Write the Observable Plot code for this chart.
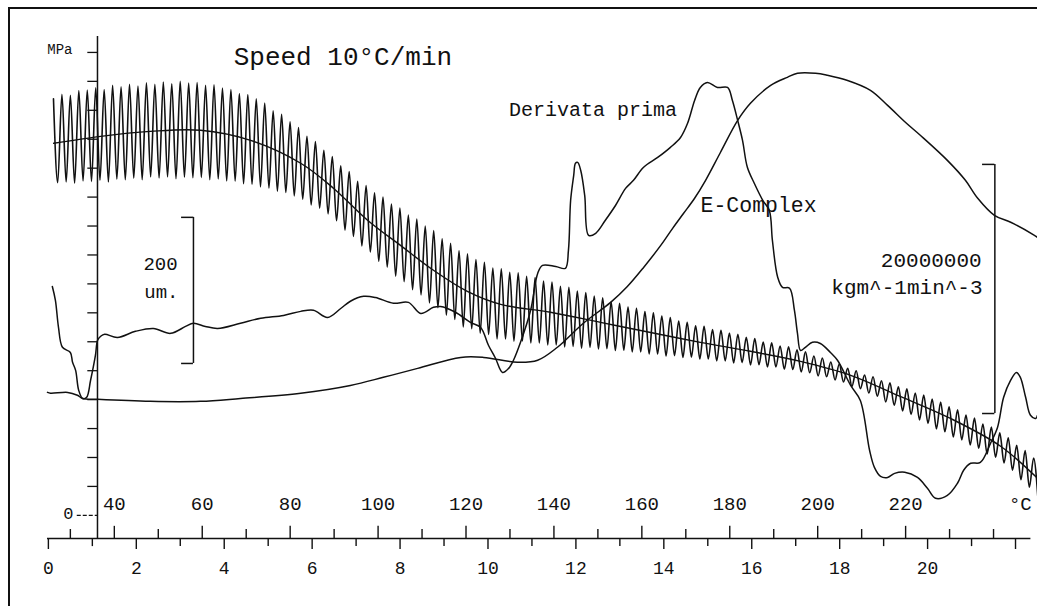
<!DOCTYPE html>
<html><head><meta charset="utf-8">
<script src="https://cdn.jsdelivr.net/npm/d3@7"></script>
<script src="https://cdn.jsdelivr.net/npm/@observablehq/plot@0.6"></script>
<style>
html,body{margin:0;padding:0;background:#fff;overflow:hidden;}
#wrap{position:relative;width:1037px;height:606px;overflow:hidden;}
#frame{position:absolute;left:8px;top:7px;right:-20px;bottom:-20px;border-left:2px solid #111;border-top:2px solid #111;}
#chart{position:absolute;left:0;top:0;}
</style></head><body>
<div id="wrap"><div id="frame"></div><div id="chart"></div></div>
<script>
// ---- axes (temperature °C on x, storage modulus MPa on y; time = (T-25)/10 min) ----
const tempTicks = [30,40,50,60,70,80,90,100,110,120,130,140,150,160,170,180,190,200,210,220,230,240];
const tempLabels = [40,60,80,100,120,140,160,180,200,220];
const timeTicks = [0,1,2,3,4,5,6,7,8,9,10,11,12,13,14,15,16,17,18,19,20,21,22];
const timeLabels = [0,2,4,6,8,10,12,14,16,18,20];
const modTicks = [0,100,200,300,400,500,600,700,800,900,1000,1100,1200,1300,1400,1500,1600];

// ---- E' oscillating trace: crest / trough of each cycle ----
const oscStartT = 26.16;   // °C of first crest
const oscPeriodT = 1.922;  // °C per cycle
const oscTop = [1440,1455,1452,1468,1470, 1478,1472,1486,1481, 1490,1484,1495,1490, 1498,1492,1500,1494,
 1496,1486,1488,1477, 1472,1458,1454,1440, 1425,1398,1386,1360, 1340,1310,1292,1262, 1240,1208,1188,1155,
 1140,1115,1100,1076, 1062,1038,1024,1000, 984,956,940,914, 904,884,875,855, 852,840,838,826,
 822,810,806,792, 788,775,770,758, 752,738,733,720, 716,704,700,689, 684,672,667,655,
 653,642,640,630, 626,615,611,599, 596,585,583,572, 565,551,544,530, 523,508,500,485,
 479,465,458,444, 437,423,416,402, 392,375,365,347, 336,316,305,285, 268,242,224,198];
const oscBottom = [1150,1152,1148,1156,1154, 1158,1152,1162,1160, 1165,1160,1170,1166, 1170,1164,1169,1167,
 1168,1160,1163,1156, 1155,1146,1144,1135, 1131,1120,1116,1104, 1093,1073,1062,1042, 1018,986,964,931,
 910,878,858,827, 808,780,762,734, 718,692,677,651, 645,630,625,610, 610,602,603,596,
 596,589,589,582, 584,578,581,575, 576,570,571,565, 565,558,558,551, 552,546,547,541,
 541,534,534,527, 528,520,521,513, 513,505,504,496, 493,482,479,468, 461,446,438,423,
 412,392,381,361, 349,330,318,299, 289,271,261,243, 232,212,201,181, 156,123,97,64];

// ---- E' mean line ----
const meanT = [26.2,36.9,48.2,59.6,71.0,82.4,89.9,97.6,105.1,112.6,120.3,127.9,139.2,150.6,162.0,173.3,184.7,196.1,207.5,218.8,230.2,241.6,250];
const meanV = [1286,1310,1327,1331,1296,1217,1130,1020,933,847,774,729,702,667,632,598,567,532,484,411,335,239,128];

// ---- Derivata prima ----
const derivT = [25.9,26.6,27.3,28.2,30.0,30.5,31.2,31.9,32.8,33.7,34.6,35.7,36.2,36.9,37.8,40.7,44.8,48.9,52.8,56.2,58.0,60.7,63.5,68.7,73.3,78.5,82.4,85.3,88.5,91.5,93.7,96.7,99.4,103.5,106.9,109.7,112.6,114.2,117.6,121.0,123.3,125.1,126.7,128.3,129.7,130.8,132.4,134.7,136.3,137.4,140.4,142.6,143.3,143.8,144.5,144.9,145.4,146.1,147.0,147.9,149.5,151.7,154.0,156.3,158.1,160.4,163.6,166.5,168.8,170.4,172.0,173.3,174.9,177.2,179.5,180.6,181.8,182.9,184.0,185.6,187.5,189.0,189.7,190.9,192.0,193.6,194.7,195.4,196.1,197.2,198.8,200.6,202.9,204.5,207.5,209.7,211.8,212.9,214.3,215.9,217.5,219.8,222.7,225.0,226.8,229.5,231.8,233.2,234.8,237.0,239.3,240.9,242.3,243.9,245.2,246.1,247.3,248.4,249.6,250.0];
const derivV = [791,743,650,581,563,529,501,432,404,408,467,553,605,619,626,615,636,646,629,653,664,653,646,664,681,691,705,709,684,715,740,757,753,733,736,698,719,722,702,667,650,588,543,494,508,536,598,709,836,864,860,854,916,1089,1175,1217,1220,1192,1106,968,975,1020,1071,1130,1158,1203,1237,1272,1306,1355,1434,1479,1496,1479,1479,1434,1365,1296,1203,1147,1089,1054,950,823,788,785,709,629,570,581,598,594,563,536,449,397,225,166,135,131,145,149,131,93,59,69,111,156,180,183,249,304,408,467,494,477,408,346,335,346];

// ---- E-Complex ----
const cplxT = [24.8,25.5,29.4,31.6,32.8,36.2,48.2,59.6,68.7,82.4,93.7,101.2,109.0,118.8,124.0,131.7,136.3,140.8,146.7,152.9,156.7,160.4,164.3,167.0,169.5,172.0,174.5,177.9,181.8,184.7,189.3,193.1,195.4,199.5,202.2,206.8,212.0,215.9,220.0,223.4,229.5,233.6,236.4,240.2,243.9,249.3,250.0];
const cplxV = [425,422,425,415,404,401,394,394,404,422,449,477,508,546,546,529,536,581,664,736,791,857,933,992,1044,1096,1158,1255,1365,1424,1486,1514,1528,1528,1521,1503,1469,1417,1358,1313,1227,1158,1096,1037,1013,968,961];

// ---- scale bars (200 um ; 20000000 kgm^-1min^-3) ----
const barT = [58.0, 240.3];
const barTickT = [55.3, 237.5];
const barLow = [525, 352];
const barHigh = [1030, 1213];

const osc = [];
oscTop.forEach((v, i) => {
  osc.push({T: oscStartT + i * oscPeriodT, v});
  osc.push({T: oscStartT + (i + 0.5) * oscPeriodT, v: oscBottom[i]});
});
const mean = meanT.map((T, i) => ({T, v: meanV[i]}));
const deriv = derivT.map((T, i) => ({T, v: derivV[i]}));
const cplx = cplxT.map((T, i) => ({T, v: cplxV[i]}));
const bars = barT.map((T, i) => ({T, t0: barTickT[i], lo: barLow[i], hi: barHigh[i]}));

const ink = "#111";
const mono = "Liberation Mono, DejaVu Sans Mono, monospace";
const yAxisT = 36.17;
const txt = (o) => Object.assign({fill: ink, fontFamily: mono, stroke: null}, o);

const chart = Plot.plot({
  width: 1037, height: 606,
  marginLeft: 47, marginRight: 0, marginTop: 23, marginBottom: 68,
  x: {domain: [24.8, 250], axis: null},
  y: {domain: [-80, 1700], axis: null},
  style: {background: "transparent", overflow: "visible"},
  marks: [
    // baseline and ticks
    Plot.ruleY([-80], {x1: 24.8, x2: 248.5, stroke: ink, strokeWidth: 1.5}),
    Plot.ruleX(tempTicks, {x: d => d, y1: -80, y2: d => tempLabels.includes(d) ? -38 : -49, stroke: ink, strokeWidth: 1.4}),
    Plot.ruleX(timeTicks, {x: d => 25 + 10 * d, y1: -80, y2: d => d % 2 === 0 ? -118 : -108, stroke: ink, strokeWidth: 1.4}),
    Plot.text(tempLabels, txt({x: d => d, y: 38, text: d => String(d), fontSize: 19})),
    Plot.text(["°C"], txt({x: 246.1, y: 38, fontSize: 19})),
    Plot.text(timeLabels, txt({x: d => 25 + 10 * d, y: -183, text: d => String(d), fontSize: 18})),
    // modulus axis
    Plot.ruleX([yAxisT], {y1: -80, y2: 1655, stroke: ink, strokeWidth: 1.5}),
    Plot.ruleY(modTicks.filter(d => d > 0), {y: d => d, x1: yAxisT - 2.2, x2: yAxisT, stroke: ink, strokeWidth: 1.3}),
    Plot.ruleY([0], {y: d => d, x1: yAxisT - 4.6, x2: yAxisT, stroke: ink, strokeWidth: 1.3, strokeDasharray: "4,2"}),
    Plot.text(["MPa"], txt({x: yAxisT, y: 1600, dx: -25, dy: -3, textAnchor: "end", fontSize: 14})),
    Plot.text(["0"], txt({x: yAxisT, y: 0, dx: -24, dy: -2, textAnchor: "end", fontSize: 17})),
    // scale bars
    Plot.ruleX(bars, {x: "T", y1: "lo", y2: "hi", stroke: ink, strokeWidth: 1.5}),
    Plot.ruleY(bars, {y: "lo", x1: "t0", x2: "T", stroke: ink, strokeWidth: 1.5}),
    Plot.ruleY(bars, {y: "hi", x1: "t0", x2: "T", stroke: ink, strokeWidth: 1.5}),
    // curves
    Plot.line(osc, {x: "T", y: "v", curve: "monotone-x", stroke: ink, strokeWidth: 1.6}),
    Plot.line(mean, {x: "T", y: "v", curve: "catmull-rom", stroke: ink, strokeWidth: 1.4}),
    Plot.line(cplx, {x: "T", y: "v", curve: "catmull-rom", stroke: ink, strokeWidth: 1.5}),
    Plot.line(deriv, {x: "T", y: "v", curve: "catmull-rom", stroke: ink, strokeWidth: 1.5}),
    // annotations
    Plot.text(["Speed 10°C/min"], txt({x: 92.0, y: 1587, fontSize: 26})),
    Plot.text(["Derivata prima"], txt({x: 148.9, y: 1401, fontSize: 20})),
    Plot.text(["E-Complex"], txt({x: 173.35, y: 1074, textAnchor: "start", fontSize: 21.5})),
    Plot.text(["20000000"], txt({x: 237.3, y: 880, textAnchor: "end", fontSize: 21})),
    Plot.text(["kgm^-1min^-3"], txt({x: 237.5, y: 790, textAnchor: "end", fontSize: 21})),
    Plot.text(["200"], txt({x: 54.4, y: 868, textAnchor: "end", fontSize: 19})),
    Plot.text(["um."], txt({x: 54.6, y: 774, textAnchor: "end", fontSize: 19}))
  ]
});
document.getElementById("chart").appendChild(chart);
</script></body></html>
